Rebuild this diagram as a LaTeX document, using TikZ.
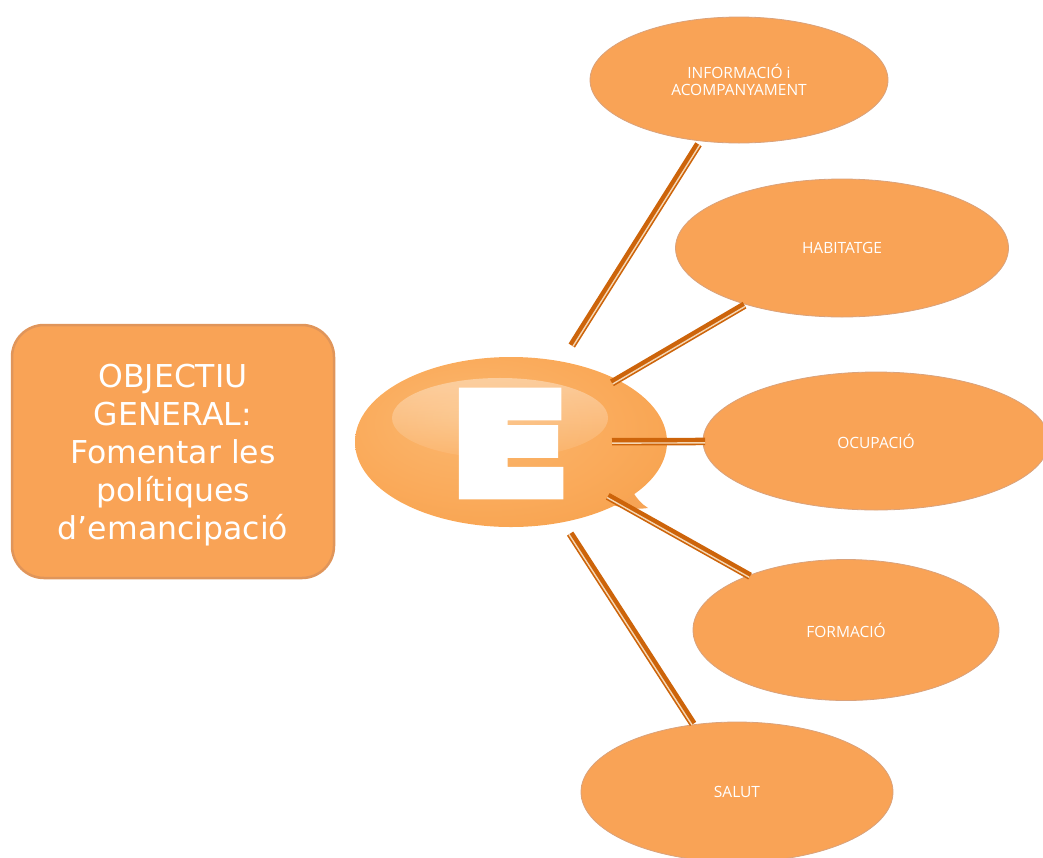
\documentclass[tikz,border=0pt]{standalone}
\usepackage{fontspec}
\usepackage{graphicx}
\setmainfont{DejaVu Sans}
\newfontfamily\lblfont{Open Sans}
\newfontfamily\Efont{DejaVu Sans Bold}[FakeBold=10]
\usetikzlibrary{shapes.geometric,fadings,calc}
\definecolor{ebase}{HTML}{F9A356}
\definecolor{eedge}{HTML}{D48F58}
\definecolor{erim}{HTML}{FFC580}
\definecolor{eline}{HTML}{D9A27C}
\definecolor{bubA}{HTML}{FBB870}
\definecolor{bubB}{HTML}{FAAA5A}
\definecolor{bubC}{HTML}{F49A42}
\definecolor{bubD}{HTML}{F6A455}
\definecolor{connDark}{HTML}{CD640A}
\definecolor{connLight}{HTML}{F5D7B4}
\definecolor{boxedge}{HTML}{E0955A}
\pgfdeclareradialshading{ellshade}{\pgfpoint{0bp}{0bp}}{color(0bp)=(ebase); color(41bp)=(ebase); color(47.5bp)=(eedge); color(50bp)=(erim)}
\pgfdeclareradialshading{bubshade}{\pgfpoint{-8bp}{8bp}}{color(0bp)=(bubA); color(22bp)=(bubB); color(46bp)=(bubC); color(50bp)=(bubD)}
\tikzfading[name=hlfade, top color=transparent!62, bottom color=transparent!94]
\begin{document}
\begin{tikzpicture}[x=1pt,y=-1pt,
  objbox/.style={rectangle, rounded corners=32pt, minimum width=322pt, minimum height=253pt,
    fill=ebase, draw=boxedge, line width=2.5pt, inner sep=0pt},
  objtext/.style={align=center, text=white, font=\fontsize{31.5}{38.2}\selectfont, inner sep=0pt},
  oval/.style={ellipse, shading=ellshade, draw=eline, line width=0.8pt, text=white,
    font=\lblfont\fontsize{15.5}{17}\selectfont, align=center, inner sep=0pt},
  bubble/.style={ellipse, shading=bubshade, minimum width=312pt, minimum height=170pt, inner sep=0pt},
  Eglyph/.style={text=white, font=\Efont\fontsize{135}{135}\selectfont, inner sep=0pt},
  conn/.style={draw=connDark, line width=7.5pt},
  connstripe/.style={draw=connLight, line width=1.4pt}
]
\useasboundingbox (0,0) rectangle (1043,857);

% objective box
\node[objbox] (obj) at (173,451.5) {};
\node[objtext] (objtxt) at (173,455) {OBJECTIU\\GENERAL:\\Fomentar les\\polítiques\\d’emancipació};

% outer ellipses
\node[oval, minimum width=298pt, minimum height=126pt] (info) at (739,80) {INFORMACIÓ i\\ACOMPANYAMENT};
\node[oval, minimum width=333pt, minimum height=138pt] (hab) at (842,248) {HABITATGE};
\node[oval, minimum width=346pt, minimum height=138pt] (ocu) at (876,441) {OCUPACIÓ};
\node[oval, minimum width=306pt, minimum height=141pt] (form) at (846,630) {FORMACIÓ};
\node[oval, minimum width=312pt, minimum height=140pt] (salut) at (737,792) {SALUT};

% central bubble
\fill[bubD] (592,498) .. controls (615,508) and (635,510) .. (648,508) .. controls (635,500) and (628,485) .. (625,470) -- cycle;
\node[bubble] (E) at (511,442) {};
\fill[white, path fading=hlfade] (500,418) ellipse [x radius=108, y radius=40];
\node[Eglyph] (Eletter) at (509.5,443.5) {\scalebox{1.25}[1]{E}};

% connectors: dark band with a light stripe off its centre line
\foreach \tgt/\sa/\sb in {info/114/76, hab/117/113, ocu/101/171, form/111/110, salut/109/81}{
  \draw[conn, shorten <=\sa pt, shorten >=\sb pt] (E.center) -- (\tgt.center);
  \draw[connstripe, shorten <=\sa pt, shorten >=\sb pt]
    ($(E.center)!1.4pt!-90:(\tgt.center)$) -- ($(\tgt.center)!1.4pt!90:(E.center)$);
}
\end{tikzpicture}
\end{document}
